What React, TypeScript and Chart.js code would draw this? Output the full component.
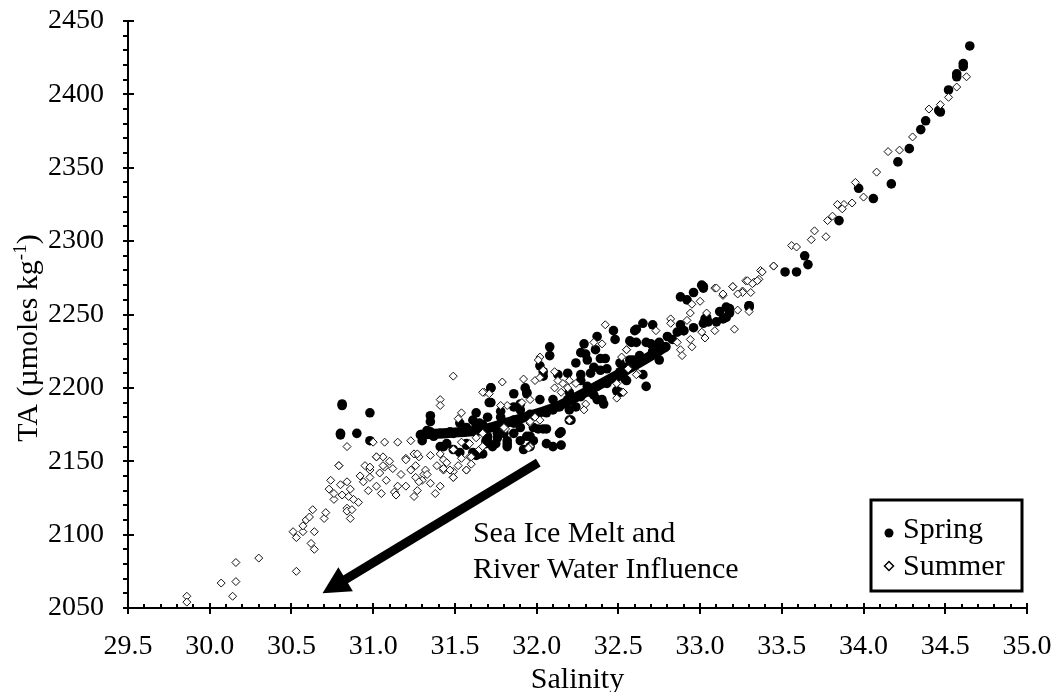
import React, { useEffect, useRef } from "react";
import { Chart, registerables } from "chart.js";

Chart.register(...registerables);

// ---------- data ----------
const springSalinity = [
  34.65, 34.61, 34.61, 34.57, 34.57, 34.52, 34.46, 34.47, 34.38, 34.35, 34.28, 34.21, 34.17, 33.97, 34.06, 33.85,
  33.64, 33.66, 33.52, 33.59, 33.30, 33.02,
  30.80, 30.81, 30.81, 30.98, 30.80, 30.90, 30.98, 31.35, 31.35, 31.72, 31.72, 31.63, 31.63, 31.53, 31.67, 31.63,
  31.75, 31.53, 31.49,
  32.08, 32.08, 32.02, 32.04, 32.04, 32.13, 32.19, 32.29, 32.30, 32.24, 32.27, 32.37, 32.36, 32.47, 32.48, 32.61,
  32.61, 32.58, 32.42, 32.43, 32.55, 32.51, 32.55, 32.37, 32.41, 32.49, 32.51, 31.93, 31.94, 31.72, 31.71, 32.02,
  32.14, 32.20, 32.24, 32.21, 32.15, 32.15, 32.01, 32.06, 31.90, 31.78, 31.76, 31.82, 31.73, 31.69, 31.90, 31.94,
  33.01, 33.02, 32.96, 32.88, 32.92, 33.30, 33.30, 33.16, 33.18, 33.14, 33.10, 33.16, 33.03, 33.05, 33.02, 32.88,
  32.90, 32.86, 32.80, 32.75, 32.73, 32.70, 32.65, 32.71, 32.60, 32.67, 32.57, 32.75, 32.71, 32.63, 32.57, 32.53,
  32.65, 32.54, 32.67,
  31.86, 31.90, 31.94, 31.98, 32.04, 32.14, 32.20, 31.65, 31.43, 31.37, 31.33, 31.49, 31.57, 31.61, 31.69, 31.76,
  31.86, 31.82, 31.98, 32.06, 32.10, 31.96, 31.92, 32.40, 32.35,
  31.86, 31.78, 31.70, 31.65, 31.86, 31.96, 32.06, 32.10, 32.19, 32.27, 32.33, 32.37, 32.43, 32.49, 32.55, 32.35,
  32.31, 32.39, 32.27,
  31.35, 31.41, 31.47, 31.57, 31.67, 31.41, 31.45, 31.57, 31.70, 31.30,
  31.80, 31.86, 31.90, 31.96, 31.82, 31.70, 31.63, 31.61, 32.27, 32.33, 32.39, 32.31, 32.20, 32.10, 32.51, 32.59,
  32.71, 32.77, 32.83, 32.90, 32.96, 33.04, 33.12, 33.18,
];
const springTA = [
  2433, 2421, 2419, 2414, 2412, 2403, 2389, 2388, 2382, 2376, 2363, 2354, 2339, 2336, 2329, 2314,
  2290, 2284, 2279, 2279, 2256, 2269,
  2168, 2189, 2188, 2183, 2169, 2169, 2164, 2181, 2177, 2200, 2190, 2183, 2175, 2176, 2155, 2154,
  2162, 2156, 2158,
  2228, 2222, 2215, 2211, 2208, 2209, 2210, 2230, 2223, 2217, 2209, 2235, 2226, 2239, 2233, 2240,
  2231, 2231, 2220, 2213, 2214, 2211, 2205, 2192, 2189, 2198, 2197, 2200, 2196, 2200, 2190, 2192,
  2187, 2185, 2187, 2178, 2170, 2161, 2172, 2172, 2185, 2180, 2169, 2164, 2160, 2164, 2173, 2167,
  2270, 2268, 2265, 2262, 2260, 2256, 2255, 2255, 2251, 2247, 2245, 2248, 2247, 2245, 2244, 2243,
  2239, 2238, 2235, 2231, 2227, 2230, 2244, 2243, 2239, 2231, 2232, 2219, 2225, 2222, 2219, 2214,
  2209, 2206, 2201,
  2196, 2189, 2197, 2173, 2172, 2169, 2178, 2155, 2160, 2167, 2171, 2169, 2161, 2156, 2162, 2166,
  2169, 2160, 2164, 2162, 2160, 2160, 2158, 2192, 2195,
  2187, 2184, 2180, 2176, 2178, 2182, 2183, 2185, 2192, 2194, 2197, 2201, 2203, 2207, 2212, 2214,
  2219, 2220, 2224,
  2170, 2169, 2170, 2173, 2175, 2160, 2162, 2162, 2164, 2164,
  2169, 2176, 2164, 2167, 2162, 2167, 2173, 2178, 2205, 2210, 2212, 2201, 2197, 2192, 2217, 2219,
  2224, 2228, 2233, 2239, 2241, 2248, 2252, 2254,
];

const summerSalinity = [
  34.63, 34.57, 34.52, 34.47, 34.40, 34.30, 34.22, 34.15, 34.08, 33.95, 34.00, 33.93, 33.88, 33.84, 33.87, 33.81,
  33.78, 33.77, 33.70, 33.68, 33.56, 33.59, 33.45, 33.37, 33.36, 33.33, 33.28, 33.31, 33.26, 33.20, 33.14, 33.09,
  29.86, 29.86, 30.14, 30.07, 30.16, 30.16, 30.30, 30.53, 30.51, 30.53, 30.57, 30.57, 30.59, 30.61, 30.63, 30.64,
  30.62, 30.64, 30.70, 30.71, 30.74, 30.73, 30.76, 30.76, 30.79, 30.84, 30.80, 30.81, 30.84, 30.84, 30.85,
  31.49, 31.41, 31.41, 31.68, 31.71, 31.54, 31.52, 30.79, 31.02, 31.06, 31.07, 30.95, 30.98, 31.20, 31.25, 31.28,
  31.26, 31.23, 31.31, 31.35, 31.41, 31.43, 31.39, 31.43, 31.49, 31.57, 31.49, 31.54, 31.59, 31.63, 31.67, 31.59,
  31.00, 31.07, 31.15, 31.23,
  32.42, 32.40, 32.35, 32.55, 32.49, 32.53, 32.49, 32.30, 32.29, 32.20, 32.24, 32.20, 32.16, 32.13, 32.11, 32.15,
  32.19, 32.11, 32.02, 31.92, 31.79, 31.67, 31.99, 31.96, 31.91, 31.82, 31.78, 31.99, 31.96, 31.81, 31.80, 31.96,
  33.45, 33.38, 33.35, 33.32, 33.29, 33.26, 33.23, 33.20, 33.14, 33.10, 33.00, 32.95, 33.30, 33.23, 33.21, 33.09,
  33.03, 33.01, 33.04, 32.94, 32.92, 32.82, 32.82, 32.94, 32.95, 32.88, 32.89, 32.86, 32.73, 32.55, 32.52, 32.56,
  32.62, 32.61, 32.53,
  30.86, 30.84, 30.87, 30.86, 30.88, 30.91, 30.94, 30.98, 31.02, 31.04, 31.08, 31.06, 31.02, 30.98, 31.13, 31.14,
  31.20, 31.17, 31.20, 31.27, 31.26, 31.27, 31.25, 31.32, 31.33, 31.30, 31.28, 31.41, 31.49, 31.47, 31.43, 31.57,
  31.54, 31.49, 31.60, 31.65, 31.67, 31.95, 31.96, 32.02, 32.01, 32.02, 32.04,
  31.10, 31.12, 31.05, 31.15, 30.92, 30.97, 31.35, 31.38, 31.45, 31.52, 31.60,
];
const summerTA = [
  2412, 2405, 2398, 2393, 2390, 2371, 2362, 2361, 2347, 2340, 2330, 2326, 2325, 2325, 2322, 2317,
  2314, 2303, 2307, 2301, 2297, 2296, 2283, 2280, 2274, 2272, 2273, 2265, 2266, 2269, 2263, 2268,
  2058, 2054, 2058, 2067, 2068, 2081, 2084, 2075, 2102, 2098, 2102, 2106, 2110, 2112, 2117, 2102,
  2094, 2090, 2111, 2115, 2137, 2131, 2124, 2128, 2147, 2160, 2134, 2127, 2118, 2116, 2126,
  2208, 2192, 2188, 2197, 2196, 2183, 2179, 2147, 2153, 2153, 2146, 2147, 2144, 2152, 2155, 2153,
  2147, 2144, 2141, 2154, 2155, 2151, 2147, 2144, 2143, 2144, 2139, 2163, 2162, 2166, 2169, 2153,
  2163, 2163, 2163, 2164,
  2243, 2230, 2231, 2226, 2203, 2197, 2193, 2189, 2185, 2178, 2203, 2205, 2203, 2205, 2200, 2197,
  2200, 2211, 2221, 2206, 2204, 2197, 2205, 2192, 2190, 2188, 2188, 2180, 2176, 2172, 2173, 2160,
  2283, 2279, 2273, 2271, 2273, 2265, 2264, 2269, 2264, 2268, 2259, 2257, 2252, 2253, 2240, 2239,
  2234, 2238, 2251, 2251, 2246, 2247, 2244, 2233, 2228, 2226, 2222, 2231, 2239, 2226, 2221, 2213,
  2210, 2209, 2197,
  2131, 2136, 2117, 2111, 2124, 2122, 2136, 2139, 2133, 2142, 2137, 2147, 2153, 2146, 2129, 2127,
  2133, 2141, 2151, 2155, 2139, 2130, 2126, 2144, 2141, 2137, 2136, 2133, 2139, 2144, 2145, 2144,
  2152, 2158, 2153, 2158, 2160, 2159, 2177, 2178, 2219, 2207, 2212,
  2150, 2145, 2128, 2133, 2140, 2130, 2135, 2128, 2149, 2147, 2148,
];

// dense spring transect drawn as a thick band
const bandSalinity = [31.29, 31.65, 31.78, 32.14, 32.61, 32.79];
const bandTA = [2168, 2171, 2175, 2188, 2216, 2228];

const xMin = 29.5, xMax = 35.0, xStep = 0.5;
const yMin = 2050, yMax = 2450, yStep = 50;

const seriesNames = ["Spring", "Summer"];
const annotationLines = ["Sea Ice Melt and", "River Water Influence"];
const annotationAnchor = [31.61, 2095]; // salinity, TA of first text baseline
const arrowTail = [32.01, 2149];
const arrowTip = [30.69, 2060];

const FONT = "'Liberation Serif', 'Times New Roman', serif";

const decorations = {
  id: "decorations",
  afterDraw(chart: any) {
    const { ctx, chartArea: a, scales } = chart;
    const x = scales.x, y = scales.y;
    ctx.save();
    ctx.strokeStyle = "#000";
    ctx.fillStyle = "#000";

    // axis lines
    ctx.lineWidth = 2;
    ctx.beginPath();
    ctx.moveTo(a.left, a.top - 1);
    ctx.lineTo(a.left, a.bottom);
    ctx.lineTo(a.right + 1, a.bottom);
    ctx.stroke();

    // x ticks
    ctx.lineWidth = 2;
    const nx = Math.round((xMax - xMin) / 0.1);
    for (let i = 0; i <= nx; i++) {
      const px = Math.round(x.getPixelForValue(xMin + i * 0.1));
      ctx.beginPath();
      if (i % 5 === 0) {
        ctx.moveTo(px, a.bottom - 5);
        ctx.lineTo(px, a.bottom + 6);
      } else {
        ctx.moveTo(px, a.bottom - 4);
        ctx.lineTo(px, a.bottom);
      }
      ctx.stroke();
    }
    // y ticks
    const ny = Math.round((yMax - yMin) / 10);
    for (let i = 0; i <= ny; i++) {
      const py = Math.round(y.getPixelForValue(yMin + i * 10));
      ctx.beginPath();
      if (i % 5 === 0) {
        ctx.moveTo(a.left - 5, py);
        ctx.lineTo(a.left + 6, py);
      } else {
        ctx.moveTo(a.left - 5, py);
        ctx.lineTo(a.left, py);
      }
      ctx.stroke();
    }

    // x title
    ctx.font = `30px ${FONT}`;
    ctx.textAlign = "center";
    ctx.textBaseline = "alphabetic";
    ctx.fillText("Salinity", (a.left + a.right) / 2, 688);

    // y title with superscript
    const main = "TA (\u00b5moles kg";
    const sup = "-1";
    const close = ")";
    ctx.font = `30px ${FONT}`;
    const wMain = ctx.measureText(main).width;
    const wClose = ctx.measureText(close).width;
    ctx.font = `19px ${FONT}`;
    const wSup = ctx.measureText(sup).width;
    const total = wMain + wSup + wClose;
    ctx.save();
    ctx.translate(37, 338);
    ctx.rotate(-Math.PI / 2);
    ctx.textAlign = "left";
    ctx.font = `30px ${FONT}`;
    ctx.fillText(main, -total / 2, 0);
    ctx.font = `19px ${FONT}`;
    ctx.fillText(sup, -total / 2 + wMain, -11);
    ctx.font = `30px ${FONT}`;
    ctx.fillText(close, -total / 2 + wMain + wSup, 0);
    ctx.restore();

    // annotation text
    ctx.font = `30px ${FONT}`;
    ctx.textAlign = "left";
    const tx = x.getPixelForValue(annotationAnchor[0]);
    const ty = y.getPixelForValue(annotationAnchor[1]);
    annotationLines.forEach((t, i) => ctx.fillText(t, tx, ty + i * 36));

    // arrow
    const x0 = x.getPixelForValue(arrowTail[0]), y0 = y.getPixelForValue(arrowTail[1]);
    const x1 = x.getPixelForValue(arrowTip[0]), y1 = y.getPixelForValue(arrowTip[1]);
    const dx = x0 - x1, dy = y0 - y1;
    const len = Math.hypot(dx, dy);
    const ux = dx / len, uy = dy / len;
    const nxv = -uy, nyv = ux;
    const headLen = 27, headHalf = 14;
    ctx.lineWidth = 9;
    ctx.lineCap = "butt";
    ctx.beginPath();
    ctx.moveTo(x0, y0);
    ctx.lineTo(x1 + ux * (headLen - 2), y1 + uy * (headLen - 2));
    ctx.stroke();
    ctx.beginPath();
    ctx.moveTo(x1, y1);
    ctx.lineTo(x1 + ux * headLen + nxv * headHalf, y1 + uy * headLen + nyv * headHalf);
    ctx.lineTo(x1 + ux * headLen - nxv * headHalf, y1 + uy * headLen - nyv * headHalf);
    ctx.closePath();
    ctx.fill();

    // legend
    const lw = 151, lh = 91;
    const lx = a.right - 5 - lw, ly = a.bottom - 17 - lh;
    ctx.fillStyle = "#fff";
    ctx.fillRect(lx, ly, lw, lh);
    ctx.lineWidth = 3;
    ctx.strokeStyle = "#000";
    ctx.strokeRect(lx, ly, lw, lh);
    ctx.fillStyle = "#000";
    ctx.beginPath();
    ctx.arc(lx + 18, ly + 33, 4.5, 0, Math.PI * 2);
    ctx.fill();
    const dxm = lx + 18, dym = ly + 66;
    ctx.lineWidth = 1.5;
    ctx.fillStyle = "#fff";
    ctx.beginPath();
    ctx.moveTo(dxm - 4.5, dym);
    ctx.lineTo(dxm, dym - 4.5);
    ctx.lineTo(dxm + 4.5, dym);
    ctx.lineTo(dxm, dym + 4.5);
    ctx.closePath();
    ctx.fill();
    ctx.stroke();
    ctx.fillStyle = "#000";
    ctx.font = `30px ${FONT}`;
    ctx.textAlign = "left";
    ctx.fillText(seriesNames[0], lx + 32, ly + 38);
    ctx.fillText(seriesNames[1], lx + 32, ly + 75);

    ctx.restore();
  },
};

export default function App() {
  const ref = useRef<HTMLCanvasElement | null>(null);
  useEffect(() => {
    if (!ref.current) return;
    const chart = new Chart(ref.current, {
      type: "scatter",
      data: {
        datasets: [
          {
            label: seriesNames[1],
            data: summerSalinity.map((s, i) => ({ x: s, y: summerTA[i] })),
            pointStyle: "rectRot",
            pointRadius: 4,
            backgroundColor: "#fff",
            borderColor: "#111",
            borderWidth: 1,
            order: 0,
          } as any,
          {
            label: "band",
            type: "line",
            data: bandSalinity.map((s, i) => ({ x: s, y: bandTA[i] })),
            showLine: true,
            borderColor: "#000",
            borderWidth: 10,
            borderCapStyle: "round",
            pointRadius: 0,
            tension: 0.2,
            fill: false,
            order: 1,
          } as any,
          {
            label: seriesNames[0],
            data: springSalinity.map((s, i) => ({ x: s, y: springTA[i] })),
            pointStyle: "circle",
            pointRadius: 4.8,
            backgroundColor: "#000",
            borderColor: "#000",
            borderWidth: 0,
            order: 2,
          } as any,
        ],
      },
      options: {
        responsive: false,
        animation: false,
        devicePixelRatio: 1,
        layout: { padding: { top: 21, right: 25, left: 0, bottom: 0 } },
        plugins: { legend: { display: false }, tooltip: { enabled: false } },
        scales: {
          x: {
            type: "linear",
            min: xMin,
            max: xMax,
            grid: { display: false },
            border: { display: false },
            ticks: {
              stepSize: xStep,
              autoSkip: false,
              maxRotation: 0,
              padding: 14,
              color: "#000",
              font: { family: FONT, size: 28 },
              callback: (v: any) => Number(v).toFixed(1),
            },
            afterFit: (s: any) => {
              s.height = 84;
              s.paddingLeft = 0;
              s.paddingRight = 0;
            },
          },
          y: {
            type: "linear",
            min: yMin,
            max: yMax,
            grid: { display: false },
            border: { display: false },
            ticks: {
              stepSize: yStep,
              autoSkip: false,
              padding: 16,
              color: "#000",
              font: { family: FONT, size: 28 },
              callback: (v: any) => String(v),
            },
            afterFit: (s: any) => {
              s.width = 128;
              s.paddingTop = 0;
              s.paddingBottom = 0;
            },
          },
        },
      },
      plugins: [decorations],
    });
    return () => chart.destroy();
  }, []);
  return (
    <div style={{ position: "fixed", left: 0, top: 0, width: 1052, height: 692, background: "#fff" }}>
      <canvas ref={ref} width={1052} height={692} />
    </div>
  );
}
